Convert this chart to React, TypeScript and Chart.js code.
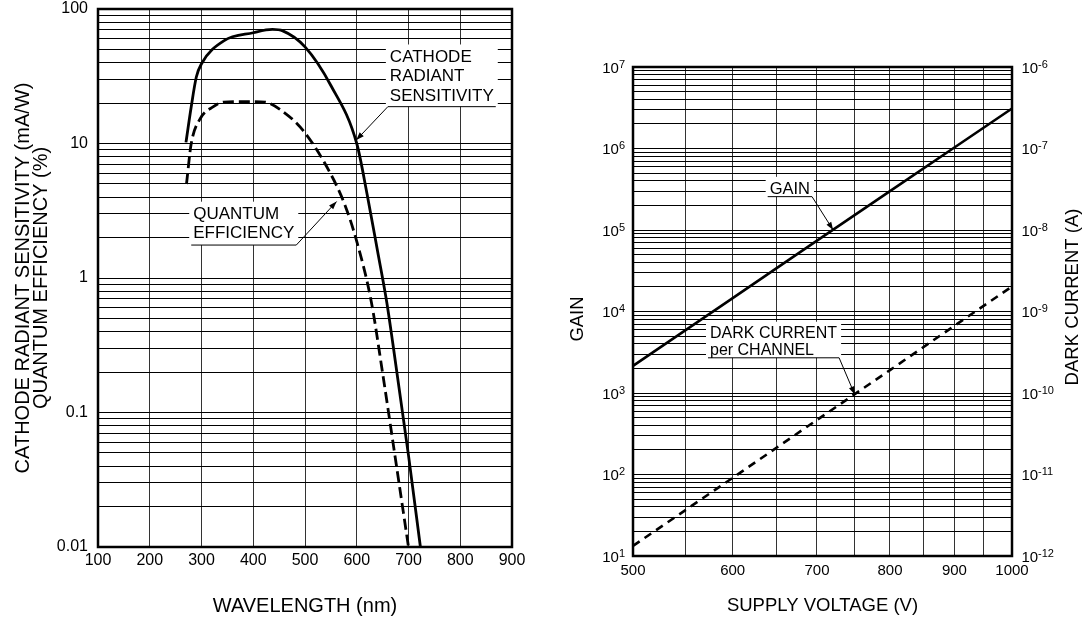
import React, { useEffect, useRef } from 'react';
import { Chart, registerables } from 'chart.js';

Chart.register(...registerables);

const FONT = "'Liberation Sans', Arial, Helvetica, sans-serif";
Chart.defaults.font.family = FONT;
Chart.defaults.color = '#000';

// ---------------- Left chart data ----------------
const wavelengthTicks = [100, 200, 300, 400, 500, 600, 700, 800, 900];
const sensitivityLabels = [0.01, 0.1, 1, 10, 100];
const gridMultipliers = [1, 2, 3, 4, 5, 6, 7, 8, 9];

const cathodeWavelength = [270, 280, 290, 300, 343, 400, 437, 457, 500, 550, 600, 620, 640, 658, 670, 700, 723];
const cathodeSensitivity = [10.2, 18.6, 31.2, 39.2, 58, 66.6, 70.5, 68.8, 52.3, 27, 10, 4.2, 1.6, 0.66, 0.32, 0.048, 0.01];

const quantumWavelength = [271, 280, 297, 323, 343, 400, 423, 450, 497, 550, 577, 600, 628, 650, 670, 700];
const quantumEfficiency = [5.0, 9.9, 15.2, 18.8, 20.3, 20.5, 20.3, 18.1, 12.4, 5.9, 3.5, 1.87, 0.67, 0.196, 0.06, 0.01];

// ---------------- Right chart data ----------------
const voltageTicks = [500, 550, 600, 650, 700, 750, 800, 850, 900, 950, 1000];
const voltageLabels = [500, 600, 700, 800, 900, 1000];
const supplyVoltage = [500, 600, 700, 800, 900, 1000];
const gainValues = [2150, 14600, 74000, 300000, 1030000, 3100000];
const darkCurrentValues = [1.33e-12, 9.1e-12, 4.67e-11, 1.91e-10, 6.67e-10, 2.03e-9];
const gainDecades = [1, 2, 3, 4, 5, 6, 7];
const darkDecades = [-12, -11, -10, -9, -8, -7, -6];

type Note = {
  lines: string[];
  x: number;
  y: number;
  tipX: number;
  tipY: number;
  side: 'left' | 'right';
  size: number;
  lineGap: number;
  under: number;
};

const leftNotes: Note[] = [
  { lines: ['CATHODE', 'RADIANT', 'SENSITIVITY'], x: 664, y: 50, tipX: 599, tipY: 10.6, side: 'left', size: 17, lineGap: 19.5, under: 6 },
  { lines: ['QUANTUM', 'EFFICIENCY'], x: 284, y: 3.39, tipX: 561, tipY: 3.7, side: 'right', size: 17, lineGap: 19.4, under: 6.8 },
];
const rightNotes: Note[] = [
  { lines: ['GAIN'], x: 642, y: 3.9e5, tipX: 721, tipY: 1e5, side: 'right', size: 16.5, lineGap: 17, under: 3 },
  { lines: ['DARK CURRENT', 'per CHANNEL'], x: 575.6, y: 6500, tipX: 750, tipY: 960, side: 'right', size: 16, lineGap: 16.6, under: 3 },
];

function logGridTicks(minExp: number, maxExp: number) {
  const t: { value: number }[] = [];
  for (let e = minExp; e < maxExp; e++) {
    for (const m of gridMultipliers) t.push({ value: m * Math.pow(10, e) });
  }
  t.push({ value: Math.pow(10, maxExp) });
  return t;
}

function fixBox(s: any, size: number) {
  if (s.isHorizontal()) s.height = size;
  else s.width = size;
  s.paddingTop = 0;
  s.paddingBottom = 0;
  s.paddingLeft = 0;
  s.paddingRight = 0;
}

function isDecade(v: number) {
  const lg = Math.log10(v);
  return Math.abs(lg - Math.round(lg)) < 1e-6;
}

function drawNote(chart: any, n: Note) {
  const ctx = chart.ctx as CanvasRenderingContext2D;
  const xs = chart.scales.x;
  const ys = chart.scales.y;
  const left = xs.getPixelForValue(n.x);
  const top = ys.getPixelForValue(n.y);
  ctx.save();
  ctx.font = `${n.size}px ${FONT}`;
  const cap = n.size * 0.716;
  const w = Math.max(...n.lines.map((l) => ctx.measureText(l).width));
  const lastBase = top + cap + (n.lines.length - 1) * n.lineGap;
  const ul = lastBase + n.under;
  ctx.fillStyle = '#fff';
  ctx.fillRect(left - 4, top - 5, w + 8, ul - top + 5);
  ctx.fillStyle = '#000';
  ctx.textAlign = 'left';
  ctx.textBaseline = 'alphabetic';
  n.lines.forEach((l, i) => ctx.fillText(l, left, top + cap + i * n.lineGap));
  const x0 = left - 2;
  const x1 = left + w + 2;
  const sx = n.side === 'left' ? x0 : x1;
  const tx = xs.getPixelForValue(n.tipX);
  const ty = ys.getPixelForValue(n.tipY);
  ctx.strokeStyle = '#000';
  ctx.lineWidth = 1;
  ctx.beginPath();
  ctx.moveTo(x0, ul);
  ctx.lineTo(x1, ul);
  ctx.moveTo(sx, ul);
  ctx.lineTo(tx, ty);
  ctx.stroke();
  const ang = Math.atan2(ty - ul, tx - sx);
  const L = 8;
  const H = 2.8;
  const c = Math.cos(ang);
  const s = Math.sin(ang);
  ctx.beginPath();
  ctx.moveTo(tx, ty);
  ctx.lineTo(tx - L * c + H * s, ty - L * s - H * c);
  ctx.lineTo(tx - L * c - H * s, ty - L * s + H * c);
  ctx.closePath();
  ctx.fill();
  ctx.restore();
}

function drawFrame(chart: any) {
  const { ctx, chartArea: a } = chart;
  ctx.save();
  ctx.strokeStyle = '#000';
  ctx.lineWidth = 2.5;
  ctx.strokeRect(a.left, a.top, a.right - a.left, a.bottom - a.top);
  ctx.restore();
}

function drawPow(ctx: CanvasRenderingContext2D, x: number, y: number, exp: number, align: 'left' | 'right') {
  ctx.font = `15px ${FONT}`;
  const wb = ctx.measureText('10').width;
  ctx.font = `11px ${FONT}`;
  const es = String(exp);
  const we = ctx.measureText(es).width;
  const x0 = align === 'right' ? x - wb - we : x;
  ctx.textAlign = 'left';
  ctx.textBaseline = 'middle';
  ctx.font = `15px ${FONT}`;
  ctx.fillText('10', x0, y + 1.5);
  ctx.font = `11px ${FONT}`;
  ctx.fillText(es, x0 + wb, y - 2.5);
}

function drawRotated(ctx: CanvasRenderingContext2D, text: string, x: number, y: number, size: number) {
  ctx.save();
  ctx.translate(x, y);
  ctx.rotate(-Math.PI / 2);
  ctx.font = `${size}px ${FONT}`;
  ctx.fillStyle = '#000';
  ctx.textAlign = 'center';
  ctx.textBaseline = 'middle';
  ctx.fillText(text, 0, 0);
  ctx.restore();
}

function LeftChart() {
  const ref = useRef<HTMLCanvasElement>(null);
  useEffect(() => {
    const chart = new Chart(ref.current as HTMLCanvasElement, {
      type: 'line',
      data: {
        datasets: [
          {
            label: 'CATHODE RADIANT SENSITIVITY',
            data: cathodeWavelength.map((x, i) => ({ x, y: cathodeSensitivity[i] })),
            borderColor: '#000',
            borderWidth: 2.8,
            pointRadius: 0,
            cubicInterpolationMode: 'monotone',
            fill: false,
          },
          {
            label: 'QUANTUM EFFICIENCY',
            data: quantumWavelength.map((x, i) => ({ x, y: quantumEfficiency[i] })),
            borderColor: '#000',
            borderWidth: 2.8,
            borderDash: [11, 5],
            pointRadius: 0,
            cubicInterpolationMode: 'monotone',
            fill: false,
          },
        ],
      },
      options: {
        responsive: false,
        animation: false,
        devicePixelRatio: 1,
        layout: { padding: { left: 0, top: 9, right: 48, bottom: 0 } },
        plugins: { legend: { display: false }, tooltip: { enabled: false } },
        scales: {
          x: {
            type: 'linear',
            min: 100,
            max: 900,
            afterBuildTicks: (s: any) => {
              s.ticks = wavelengthTicks.map((v) => ({ value: v }));
            },
            afterFit: (s: any) => fixBox(s, 74),
            grid: { color: '#333', lineWidth: 1, drawTicks: false },
            border: { display: false },
            ticks: {
              autoSkip: false,
              maxRotation: 0,
              padding: 4.4,
              font: { size: 16 },
              color: '#000',
              callback: (v: any) => String(v),
            },
            title: {
              display: true,
              text: 'WAVELENGTH (nm)',
              font: { size: 20, lineHeight: 1.2 },
              color: '#000',
              padding: { top: 0, bottom: 2.3 },
            },
          },
          y: {
            type: 'logarithmic',
            min: 0.01,
            max: 100,
            afterBuildTicks: (s: any) => {
              s.ticks = logGridTicks(-2, 2);
            },
            afterFit: (s: any) => fixBox(s, 98),
            grid: { color: '#000', lineWidth: 1, drawTicks: false },
            border: { display: false },
            ticks: {
              autoSkip: false,
              padding: 10,
              font: { size: 16 },
              color: '#000',
              callback: (v: any) => {
                if (!isDecade(v)) return '';
                const hit = sensitivityLabels.find((l) => Math.abs(Math.log10(l) - Math.log10(v)) < 1e-6);
                return hit === undefined ? '' : String(hit);
              },
            },
            title: {
              display: true,
              text: ['CATHODE RADIANT SENSITIVITY (mA/W)', 'QUANTUM EFFICIENCY (%)'],
              font: { size: 20, lineHeight: 0.93 },
              color: '#000',
              padding: { top: 13.7, bottom: 0 },
            },
          },
        },
      } as any,
      plugins: [
        {
          id: 'leftDecor',
          afterDatasetsDraw: (c: any) => {
            drawFrame(c);
            leftNotes.forEach((n) => drawNote(c, n));
          },
        },
      ],
    });
    return () => chart.destroy();
  }, []);
  return (
    <canvas
      ref={ref}
      width={560}
      height={621}
      style={{ position: 'absolute', left: 0, top: 0, width: 560, height: 621 }}
    />
  );
}

function RightChart() {
  const ref = useRef<HTMLCanvasElement>(null);
  useEffect(() => {
    const chart = new Chart(ref.current as HTMLCanvasElement, {
      type: 'line',
      data: {
        datasets: [
          {
            label: 'GAIN',
            data: supplyVoltage.map((x, i) => ({ x, y: gainValues[i] })),
            borderColor: '#000',
            borderWidth: 2.6,
            pointRadius: 0,
            tension: 0,
            yAxisID: 'y',
            fill: false,
          },
          {
            label: 'DARK CURRENT per CHANNEL',
            data: supplyVoltage.map((x, i) => ({ x, y: darkCurrentValues[i] })),
            borderColor: '#000',
            borderWidth: 2.6,
            borderDash: [8, 6],
            pointRadius: 0,
            tension: 0,
            yAxisID: 'y2',
            fill: false,
          },
        ],
      },
      options: {
        responsive: false,
        animation: false,
        devicePixelRatio: 1,
        layout: { padding: { left: 0, top: 67, right: 0, bottom: 0 } },
        plugins: { legend: { display: false }, tooltip: { enabled: false } },
        scales: {
          x: {
            type: 'logarithmic',
            min: 500,
            max: 1000,
            afterBuildTicks: (s: any) => {
              s.ticks = voltageTicks.map((v) => ({ value: v }));
            },
            afterFit: (s: any) => fixBox(s, 65),
            grid: { color: '#333', lineWidth: 1, drawTicks: false },
            border: { display: false },
            ticks: {
              autoSkip: false,
              maxRotation: 0,
              padding: 6.3,
              font: { size: 15 },
              color: '#000',
              callback: (v: any) => (voltageLabels.includes(Math.round(v)) ? String(Math.round(v)) : ''),
            },
            title: {
              display: true,
              text: 'SUPPLY VOLTAGE (V)',
              font: { size: 18.5, lineHeight: 1.2 },
              color: '#000',
              padding: { top: 0, bottom: 3.9 },
            },
          },
          y: {
            type: 'logarithmic',
            position: 'left',
            min: 10,
            max: 1e7,
            afterBuildTicks: (s: any) => {
              s.ticks = logGridTicks(1, 7);
            },
            afterFit: (s: any) => fixBox(s, 73),
            grid: { color: '#000', lineWidth: 1, drawTicks: false },
            border: { display: false },
            ticks: { display: false },
          },
          y2: {
            type: 'logarithmic',
            position: 'right',
            min: 1e-12,
            max: 1e-6,
            afterFit: (s: any) => fixBox(s, 73),
            grid: { display: false, drawTicks: false },
            border: { display: false },
            ticks: { display: false },
          },
        },
      } as any,
      plugins: [
        {
          id: 'rightDecor',
          afterDatasetsDraw: (c: any) => {
            drawFrame(c);
            rightNotes.forEach((n) => drawNote(c, n));
          },
          afterDraw: (c: any) => {
            const ctx = c.ctx as CanvasRenderingContext2D;
            const a = c.chartArea;
            ctx.save();
            ctx.fillStyle = '#000';
            gainDecades.forEach((e) => {
              drawPow(ctx, a.left - 8, c.scales.y.getPixelForValue(Math.pow(10, e)), e, 'right');
            });
            darkDecades.forEach((e) => {
              drawPow(ctx, a.right + 9.4, c.scales.y2.getPixelForValue(Math.pow(10, e)), e, 'left');
            });
            ctx.restore();
            drawRotated(ctx, 'GAIN', 18, 319, 18.5);
            drawRotated(ctx, 'DARK CURRENT (A)', 513, 297, 18.5);
          },
        },
      ],
    });
    return () => chart.destroy();
  }, []);
  return (
    <canvas
      ref={ref}
      width={525}
      height={621}
      style={{ position: 'absolute', left: 560, top: 0, width: 525, height: 621 }}
    />
  );
}

export default function App() {
  return (
    <div style={{ position: 'fixed', left: 0, top: 0, width: 1085, height: 621, background: '#fff' }}>
      <LeftChart />
      <RightChart />
    </div>
  );
}
